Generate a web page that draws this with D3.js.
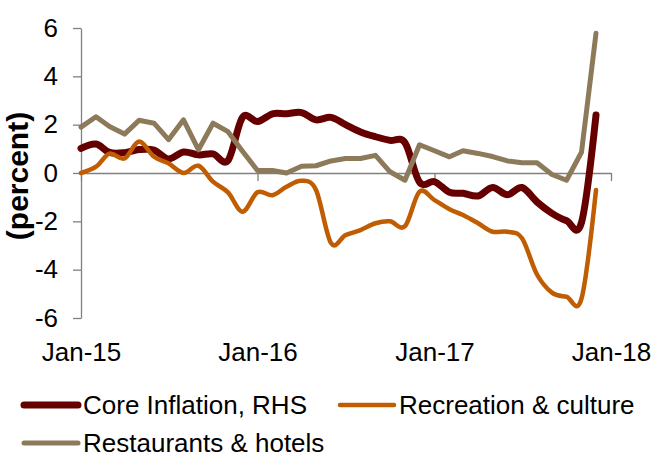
<!DOCTYPE html>
<html>
<head>
<meta charset="utf-8">
<script src="https://cdn.jsdelivr.net/npm/d3@7"></script>
<style>
  html, body { margin: 0; padding: 0; background: #fff; }
  svg { display: block; }
  text { font-family: "Liberation Sans", Arial, sans-serif; fill: #000; }
</style>
</head>
<body>
<svg id="chart" width="663" height="459"></svg>
<script>
// Monthly observations, Jan-2015 .. Dec-2017 (percent)
const months = d3.timeMonths(new Date(2015, 0, 1), new Date(2018, 0, 1));

const coreInflation = [
  1.02, 1.2, 0.85, 0.84, 0.97, 0.95, 0.58, 0.87, 0.75, 0.79, 0.52, 2.3,
  2.13, 2.45, 2.45, 2.5, 2.2, 2.3, 2.0, 1.7, 1.5, 1.35, 1.25, -0.38,
  -0.36, -0.8, -0.84, -0.95, -0.6, -0.9, -0.6, -1.2, -1.67, -1.97, -2.05, 2.4
];

const recreationCulture = [
  0.0, 0.26, 0.8, 0.6, 1.3, 0.67, 0.4, 0.0, 0.3, -0.36, -0.8, -1.6,
  -0.8, -0.92, -0.57, -0.32, -0.7, -2.9, -2.57, -2.36, -2.08, -2.0, -2.2, -0.77,
  -1.12, -1.5, -1.74, -2.08, -2.43, -2.43, -2.7, -4.2, -4.95, -5.12, -5.2, -0.7
];

const restaurantsHotels = [
  1.9, 2.33, 1.92, 1.61, 2.18, 2.06, 1.38, 2.2, 0.96, 2.06, 1.71, 0.9,
  0.1, 0.1, 0.0, 0.28, 0.3, 0.5, 0.6, 0.6, 0.73, 0.05, -0.3, 1.17,
  0.92, 0.67, 0.92, 0.81, 0.68, 0.5, 0.42, 0.42, -0.06, -0.3, 0.86, 5.78
];

const yTicks = [-6, -4, -2, 0, 2, 4, 6];
const xTickDates = [new Date(2015, 0, 1), new Date(2016, 0, 1), new Date(2017, 0, 1), new Date(2018, 0, 1)];

const series = [
  { name: "Core Inflation, RHS", values: coreInflation, color: "#660000", width: 7, smooth: true },
  { name: "Recreation & culture", values: recreationCulture, color: "#C05C02", width: 4.5, smooth: true },
  { name: "Restaurants & hotels", values: restaurantsHotels, color: "#8C7A5B", width: 5, smooth: false }
];

const svg = d3.select("#chart");

const x = d3.scaleTime()
  .domain([new Date(2015, 0, 1), new Date(2018, 0, 1)])
  .range([81, 611]);

const y = d3.scaleLinear()
  .domain([-6, 6])
  .range([318, 28]);

const axisColor = "#808080";
const tickFont = "26px";

// Value axis on the left
const yAxis = svg.append("g")
  .attr("transform", "translate(81,0)")
  .call(d3.axisLeft(y).tickValues(yTicks).tickSize(8).tickSizeOuter(0).tickPadding(15)
    .tickFormat(d3.format("d")));
yAxis.select(".domain").attr("stroke", axisColor).attr("stroke-width", 1.3);
yAxis.selectAll(".tick line").attr("stroke", axisColor).attr("stroke-width", 1.3);
yAxis.selectAll(".tick text")
  .style("font-size", tickFont)
  .style("font-family", "'Liberation Sans', Arial, sans-serif")
  .attr("fill", "#000")
  .text(d => d < 0 ? "-" + Math.abs(d) : d);

// Time axis drawn along zero
const xAxis = svg.append("g")
  .attr("transform", `translate(0,${y(0)})`)
  .call(d3.axisBottom(x).tickValues(xTickDates).tickSize(8).tickSizeOuter(0)
    .tickFormat(d3.timeFormat("%b-%y")));
xAxis.select(".domain").attr("stroke", axisColor).attr("stroke-width", 1.3);
xAxis.selectAll(".tick line").attr("stroke", axisColor).attr("stroke-width", 1.3);
// Date labels sit below the plot rather than on the zero line
xAxis.selectAll(".tick text")
  .attr("y", 352 - y(0))
  .attr("dy", "0.35em")
  .style("font-size", tickFont)
  .style("font-family", "'Liberation Sans', Arial, sans-serif")
  .attr("fill", "#000");

// Axis title
svg.append("text")
  .attr("transform", "translate(17,176) rotate(-90)")
  .attr("text-anchor", "middle")
  .attr("dominant-baseline", "central")
  .style("font-size", "30px")
  .style("font-weight", "bold")
  .text("(percent)");

// Lines
series.forEach(s => {
  const line = d3.line()
    .x((d, i) => x(months[i]))
    .y(d => y(d))
    .curve(s.smooth ? d3.curveCatmullRom.alpha(0) : d3.curveLinear);
  svg.append("path")
    .datum(s.values)
    .attr("fill", "none")
    .attr("stroke", s.color)
    .attr("stroke-width", s.width)
    .attr("stroke-linejoin", "round")
    .attr("stroke-linecap", "round")
    .attr("d", line);
});

// Legend
const legendItems = [
  { s: series[0], x: 22, y: 405 },
  { s: series[1], x: 338, y: 405 },
  { s: series[2], x: 22, y: 443 }
];
const legend = svg.append("g");
legendItems.forEach(item => {
  legend.append("line")
    .attr("x1", item.x + 2).attr("x2", item.x + 56)
    .attr("y1", item.y).attr("y2", item.y)
    .attr("stroke", item.s.color)
    .attr("stroke-width", item.s.width)
    .attr("stroke-linecap", "round");
  legend.append("text")
    .attr("x", item.x + 61)
    .attr("y", item.y)
    .attr("dominant-baseline", "central")
    .style("font-size", "26px")
    .text(item.s.name);
});
</script>
</body>
</html>
